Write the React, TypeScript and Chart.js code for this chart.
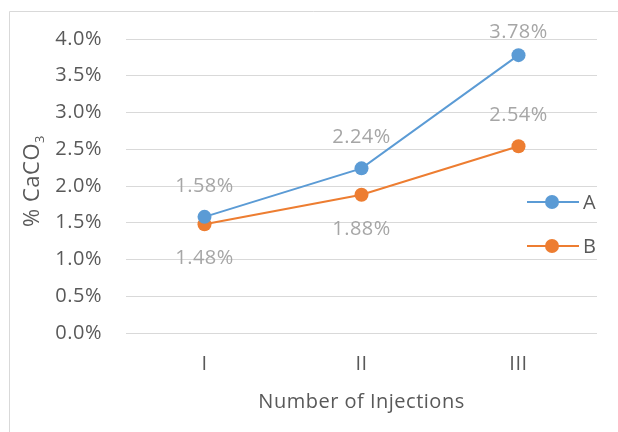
import React, { useEffect, useRef } from "react";
import { Chart, registerables } from "chart.js";

Chart.register(...registerables);

const categories = ["I", "II", "III"];
const seriesNames = ["A", "B"];
const seriesA = [1.58, 2.24, 3.78];
const seriesB = [1.48, 1.88, 2.54];
const labelPosA = ["above", "above", "above"];
const labelPosB = ["below", "below", "above"];
const yTicks = [0, 0.5, 1, 1.5, 2, 2.5, 3, 3.5, 4];

const BLUE = "#5B9BD5";
const ORANGE = "#ED7D31";
const GRID = "#D9D9D9";
const TEXT = "#595959";
const LABEL = "#A6A6A6";
const FONT = "'Open Sans', sans-serif";
const FS = 20;

const spacing = {
  id: "spacing",
  beforeDraw(chart: any) {
    chart.ctx.letterSpacing = "0.5px";
  },
};

const overlay = {
  id: "overlay",
  afterDatasetsDraw(chart: any) {
    const ctx = chart.ctx;
    const area = chart.chartArea;
    ctx.save();
    ctx.letterSpacing = "0.5px";
    // frame
    ctx.strokeStyle = GRID;
    ctx.lineWidth = 1;
    ctx.beginPath();
    ctx.moveTo(9.5, 432);
    ctx.lineTo(9.5, 11.5);
    ctx.lineTo(618, 11.5);
    ctx.stroke();

    // data labels
    ctx.font = `${FS}px ${FONT}`;
    ctx.fillStyle = LABEL;
    ctx.textAlign = "center";
    ctx.textBaseline = "middle";
    const positions = [labelPosA, labelPosB];
    chart.data.datasets.forEach((ds: any, di: number) => {
      const meta = chart.getDatasetMeta(di);
      meta.data.forEach((pt: any, i: number) => {
        const v = ds.data[i];
        const pos = positions[di][i];
        let y = pos === "above" ? pt.y - 31 : pt.y + 34;
        y = Math.max(y, area.top - 7);
        ctx.fillText(v.toFixed(2) + "%", pt.x, y);
      });
    });

    // legend
    const colors = [BLUE, ORANGE];
    const legendY = [202, 246];
    colors.forEach((c, i) => {
      const y = legendY[i];
      ctx.strokeStyle = c;
      ctx.lineWidth = 2;
      ctx.beginPath();
      ctx.moveTo(527, y);
      ctx.lineTo(579, y);
      ctx.stroke();
      ctx.fillStyle = c;
      ctx.beginPath();
      ctx.arc(552, y, 7, 0, Math.PI * 2);
      ctx.fill();
      ctx.fillStyle = TEXT;
      ctx.textAlign = "left";
      ctx.font = `${FS}px ${FONT}`;
      ctx.fillText(seriesNames[i], 583, y + 1);
    });

    // x title
    ctx.fillStyle = TEXT;
    ctx.textAlign = "center";
    ctx.font = `${FS}px ${FONT}`;
    ctx.fillText("Number of Injections", (area.left + area.right) / 2, 402);

    // y title with subscript
    ctx.translate(33, 181);
    ctx.rotate(-Math.PI / 2);
    ctx.font = `22px ${FONT}`;
    const main = "% CaCO";
    const w1 = ctx.measureText(main).width;
    ctx.font = `13px ${FONT}`;
    const w2 = ctx.measureText("3").width;
    const total = w1 + w2;
    ctx.textAlign = "left";
    ctx.font = `22px ${FONT}`;
    ctx.fillText(main, -total / 2, 0);
    ctx.font = `13px ${FONT}`;
    ctx.fillText("3", -total / 2 + w1, 7);
    ctx.restore();
  },
};

export default function App() {
  const ref = useRef<HTMLCanvasElement>(null);
  useEffect(() => {
    if (!ref.current) return;
    const chart = new Chart(ref.current, {
      type: "line",
      data: {
        labels: categories,
        datasets: [
          {
            label: seriesNames[0],
            data: seriesA,
            borderColor: BLUE,
            backgroundColor: BLUE,
            borderWidth: 2,
            pointRadius: 7,
            pointHoverRadius: 7,
            pointBorderWidth: 0,
            tension: 0,
          },
          {
            label: seriesNames[1],
            data: seriesB,
            borderColor: ORANGE,
            backgroundColor: ORANGE,
            borderWidth: 2,
            pointRadius: 7,
            pointHoverRadius: 7,
            pointBorderWidth: 0,
            tension: 0,
          },
        ],
      },
      options: {
        responsive: false,
        animation: false,
        layout: { padding: { left: 0, right: 21, top: 39, bottom: 0 } },
        plugins: {
          legend: { display: false },
          tooltip: { enabled: false },
        },
        scales: {
          x: {
            offset: true,
            grid: { display: false, drawTicks: false },
            border: { display: false },
            ticks: {
              color: TEXT,
              font: { family: FONT, size: FS },
              padding: 19,
            },
            afterFit(scale: any) {
              scale.height = 99;
            },
          },
          y: {
            min: 0,
            max: 4,
            afterBuildTicks(scale: any) {
              scale.ticks = yTicks.map((v) => ({ value: v }));
            },
            grid: { color: GRID, lineWidth: 1, drawTicks: false },
            border: { display: false },
            ticks: {
              color: TEXT,
              font: { family: FONT, size: FS },
              padding: 24,
              callback: (v: any) => Number(v).toFixed(1) + "%",
            },
            afterFit(scale: any) {
              scale.width = 126;
            },
          },
        },
      },
      plugins: [spacing, overlay],
    });
    return () => chart.destroy();
  }, []);
  return (
    <canvas
      ref={ref}
      width={618}
      height={432}
      style={{ position: "absolute", left: 0, top: 0, width: 618, height: 432 }}
    />
  );
}
